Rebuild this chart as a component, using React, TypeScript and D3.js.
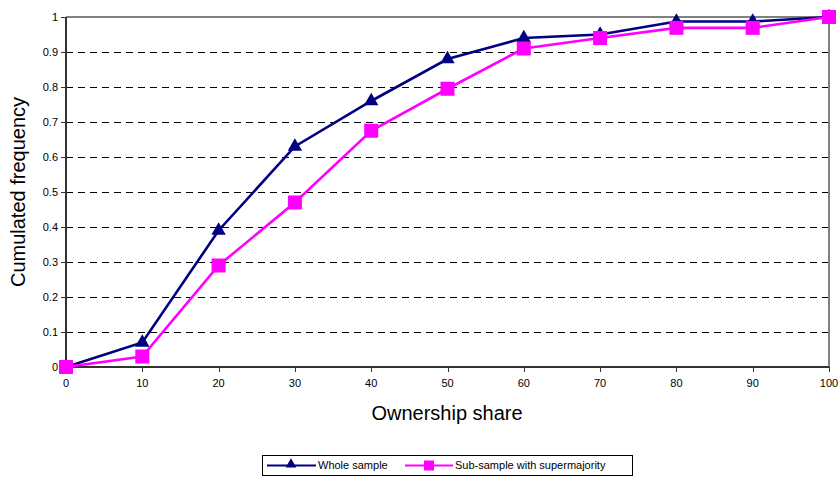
import React from "react";
import * as d3 from "d3";

const xValues = [0, 10, 20, 30, 40, 50, 60, 70, 80, 90, 100];
const wholeSample = [0, 0.07, 0.39, 0.63, 0.76, 0.88, 0.94, 0.95, 0.987, 0.987, 1.0];
const subSample = [0, 0.03, 0.29, 0.47, 0.675, 0.795, 0.91, 0.94, 0.969, 0.969, 1.0];
const yTicks = [0, 0.1, 0.2, 0.3, 0.4, 0.5, 0.6, 0.7, 0.8, 0.9, 1];
const xTicks = [0, 10, 20, 30, 40, 50, 60, 70, 80, 90, 100];
const seriesNames = ["Whole sample", "Sub-sample with supermajority"];

const W = 840, H = 480;
const L = 66, R = 829, T = 17, B = 367;
const font = "Arial, 'Liberation Sans', Helvetica, sans-serif";

export default function App() {
  const x = d3.scaleLinear().domain([0, 100]).range([L, R]);
  const y = d3.scaleLinear().domain([0, 1]).range([B, T]);
  const line = d3.line<number>().x((_, i) => x(xValues[i])).y((d) => y(d));
  const tri = d3.symbol().type(d3.symbolTriangle).size(90)();
  const navy = "#000080";
  const pink = "#FF00FF";
  const sq = 14;

  return (
    <svg width={W} height={H} style={{ position: "absolute", left: 0, top: 0, background: "#fff" }} fontFamily={font}>
      {/* gridlines */}
      {yTicks.filter((t) => t > 0 && t < 1).map((t) => (
        <line key={t} x1={L} x2={R} y1={Math.round(y(t)) + 0.5} y2={Math.round(y(t)) + 0.5} stroke="#000" strokeWidth={1} strokeDasharray="7,5" shapeRendering="crispEdges" />
      ))}
      {/* plot border top & right */}
      <line x1={L} x2={R} y1={y(1)} y2={y(1)} stroke="#808080" strokeWidth={2} />
      <line x1={R} x2={R} y1={T} y2={B} stroke="#808080" strokeWidth={2} />
      {/* axes */}
      <line x1={L} x2={L} y1={T} y2={B} stroke="#333" strokeWidth={2} />
      <line x1={L} x2={R} y1={B} y2={B} stroke="#333" strokeWidth={2} />
      {yTicks.map((t) => (
        <g key={t}>
          <line x1={L - 5} x2={L} y1={Math.round(y(t)) + 0.5} y2={Math.round(y(t)) + 0.5} stroke="#333" strokeWidth={1} />
          <text x={L - 8} y={y(t)} dy="0.35em" textAnchor="end" fontSize={11} fill="#000">{String(t)}</text>
        </g>
      ))}
      {xTicks.map((t) => (
        <g key={t}>
          <line x1={Math.round(x(t)) + 0.5} x2={Math.round(x(t)) + 0.5} y1={B} y2={B + 5} stroke="#333" strokeWidth={1} />
          <text x={x(t)} y={B + 20} textAnchor="middle" fontSize={11} fill="#000">{String(t)}</text>
        </g>
      ))}
      <text x={447} y={420} textAnchor="middle" fontSize={20} fill="#000">Ownership share</text>
      <text transform={`translate(25,${(T + B) / 2}) rotate(-90)`} textAnchor="middle" fontSize={20} fill="#000">Cumulated frequency</text>

      {/* series */}
      <path d={line(wholeSample) || ""} fill="none" stroke={navy} strokeWidth={2.6} />
      {wholeSample.map((v, i) => (
        <path key={i} d={tri || ""} transform={`translate(${x(xValues[i])},${y(v)})`} fill={navy} />
      ))}
      <path d={line(subSample) || ""} fill="none" stroke={pink} strokeWidth={2.6} />
      {subSample.map((v, i) => (
        <rect key={i} x={x(xValues[i]) - sq / 2} y={y(v) - sq / 2} width={sq} height={sq} fill={pink} />
      ))}

      {/* legend */}
      <rect x={262.5} y={455.5} width={370} height={20} fill="#fff" stroke="#000" strokeWidth={1} />
      <line x1={267} x2={316} y1={465.5} y2={465.5} stroke={navy} strokeWidth={2} />
      <path d={d3.symbol().type(d3.symbolTriangle).size(50)() || ""} transform="translate(291,464.5)" fill={navy} />
      <text x={318} y={465.5} dy="0.35em" fontSize={11} fill="#000">{seriesNames[0]}</text>
      <line x1={405} x2={453} y1={465.5} y2={465.5} stroke={pink} strokeWidth={2} />
      <rect x={424} y={460.5} width={10} height={10} fill={pink} />
      <text x={455} y={465.5} dy="0.35em" fontSize={11} fill="#000">{seriesNames[1]}</text>
    </svg>
  );
}
